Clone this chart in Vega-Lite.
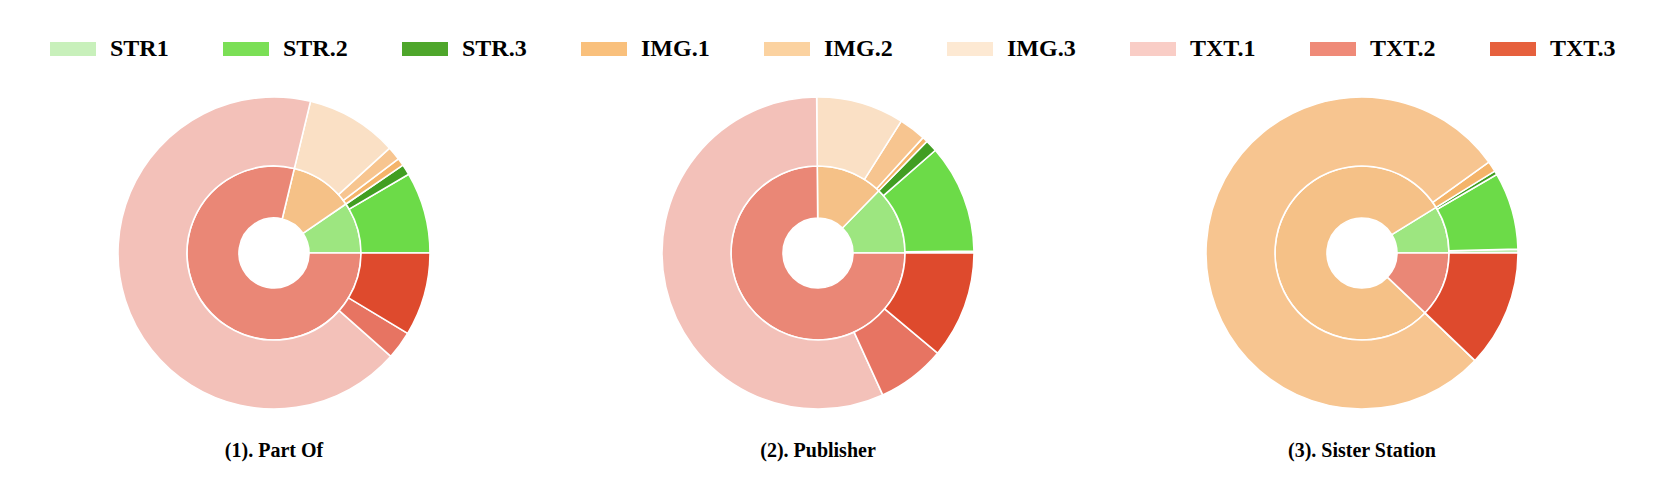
{
  "$schema": "https://vega.github.io/schema/vega-lite/v6.json",
  "padding": {"left": 50, "top": 26, "right": 5, "bottom": 5},
  "data": {"values": [
    {"panel": "(1). Part Of", "grp": "STR", "sub": "STR1", "v": 0, "ord": 9, "gord": 3},
    {"panel": "(1). Part Of", "grp": "STR", "sub": "STR.2", "v": 8.4, "ord": 8, "gord": 3},
    {"panel": "(1). Part Of", "grp": "STR", "sub": "STR.3", "v": 1.1, "ord": 7, "gord": 3},
    {"panel": "(1). Part Of", "grp": "IMG", "sub": "IMG.1", "v": 0.8, "ord": 6, "gord": 2},
    {"panel": "(1). Part Of", "grp": "IMG", "sub": "IMG.2", "v": 1.4, "ord": 5, "gord": 2},
    {"panel": "(1). Part Of", "grp": "IMG", "sub": "IMG.3", "v": 9.5, "ord": 4, "gord": 2},
    {"panel": "(1). Part Of", "grp": "TXT", "sub": "TXT.1", "v": 67.1, "ord": 3, "gord": 1},
    {"panel": "(1). Part Of", "grp": "TXT", "sub": "TXT.2", "v": 2.9, "ord": 2, "gord": 1},
    {"panel": "(1). Part Of", "grp": "TXT", "sub": "TXT.3", "v": 8.6, "ord": 1, "gord": 1},
    {"panel": "(2). Publisher", "grp": "STR", "sub": "STR1", "v": 0.2, "ord": 9, "gord": 3},
    {"panel": "(2). Publisher", "grp": "STR", "sub": "STR.2", "v": 11.25, "ord": 8, "gord": 3},
    {"panel": "(2). Publisher", "grp": "STR", "sub": "STR.3", "v": 1.25, "ord": 7, "gord": 3},
    {"panel": "(2). Publisher", "grp": "IMG", "sub": "IMG.1", "v": 0.55, "ord": 6, "gord": 2},
    {"panel": "(2). Publisher", "grp": "IMG", "sub": "IMG.2", "v": 2.8, "ord": 5, "gord": 2},
    {"panel": "(2). Publisher", "grp": "IMG", "sub": "IMG.3", "v": 9.1, "ord": 4, "gord": 2},
    {"panel": "(2). Publisher", "grp": "TXT", "sub": "TXT.1", "v": 56.7, "ord": 3, "gord": 1},
    {"panel": "(2). Publisher", "grp": "TXT", "sub": "TXT.2", "v": 7.1, "ord": 2, "gord": 1},
    {"panel": "(2). Publisher", "grp": "TXT", "sub": "TXT.3", "v": 11.1, "ord": 1, "gord": 1},
    {"panel": "(3). Sister Station", "grp": "STR", "sub": "STR1", "v": 0.4, "ord": 9, "gord": 3},
    {"panel": "(3). Sister Station", "grp": "STR", "sub": "STR.2", "v": 8.0, "ord": 8, "gord": 3},
    {"panel": "(3). Sister Station", "grp": "STR", "sub": "STR.3", "v": 0.4, "ord": 7, "gord": 3},
    {"panel": "(3). Sister Station", "grp": "IMG", "sub": "IMG.1", "v": 1.1, "ord": 6, "gord": 2},
    {"panel": "(3). Sister Station", "grp": "IMG", "sub": "IMG.2", "v": 78.0, "ord": 5, "gord": 2},
    {"panel": "(3). Sister Station", "grp": "IMG", "sub": "IMG.3", "v": 0, "ord": 4, "gord": 2},
    {"panel": "(3). Sister Station", "grp": "TXT", "sub": "TXT.1", "v": 0, "ord": 3, "gord": 1},
    {"panel": "(3). Sister Station", "grp": "TXT", "sub": "TXT.2", "v": 0, "ord": 2, "gord": 1},
    {"panel": "(3). Sister Station", "grp": "TXT", "sub": "TXT.3", "v": 12.1, "ord": 1, "gord": 1}
  ]},
  "facet": {
    "column": {
      "field": "panel", "type": "nominal",
      "header": {
        "title": null, "labelOrient": "bottom", "labelPadding": 18,
        "labelFont": "Liberation Serif", "labelFontWeight": "bold", "labelFontSize": 20, "labelColor": "#000000"
      }
    }
  },
  "spacing": 96,
  "spec": {
    "width": 448,
    "height": 340,
    "layer": [
      {
        "transform": [
          {"aggregate": [{"op": "sum", "field": "v", "as": "gv"}], "groupby": ["panel", "grp", "gord"]}
        ],
        "mark": {"type": "arc", "radius": 87, "radius2": 35, "stroke": "#ffffff", "strokeWidth": 1.6},
        "encoding": {
          "theta": {"field": "gv", "type": "quantitative", "stack": "normalize", "scale": {"range": [1.5708, 7.854]}},
          "order": {"field": "gord", "type": "quantitative"},
          "fill": {
            "field": "grp", "type": "nominal", "legend": null,
            "scale": {
              "domain": ["STR", "IMG", "TXT", "STR1", "STR.2", "STR.3", "IMG.1", "IMG.2", "IMG.3", "TXT.1", "TXT.2", "TXT.3"],
              "range": ["#9de680", "#f5c187", "#ea8776", "#bfecb0", "#6cdb48", "#419e22", "#f4b46a", "#f7c590", "#fae0c5", "#f3c1b9", "#e77462", "#de4a2d"]
            }
          }
        }
      },
      {
        "mark": {"type": "arc", "radius": 156, "radius2": 87, "stroke": "#ffffff", "strokeWidth": 1.6},
        "encoding": {
          "theta": {"field": "v", "type": "quantitative", "stack": "normalize", "scale": {"range": [1.5708, 7.854]}},
          "order": {"field": "ord", "type": "quantitative"},
          "fill": {
            "field": "sub", "type": "nominal", "legend": null,
            "scale": {
              "domain": ["STR", "IMG", "TXT", "STR1", "STR.2", "STR.3", "IMG.1", "IMG.2", "IMG.3", "TXT.1", "TXT.2", "TXT.3"],
              "range": ["#9de680", "#f5c187", "#ea8776", "#bfecb0", "#6cdb48", "#419e22", "#f4b46a", "#f7c590", "#fae0c5", "#f3c1b9", "#e77462", "#de4a2d"]
            }
          }
        }
      },
      {
        "mark": {"type": "point", "filled": true, "opacity": 0},
        "encoding": {
          "color": {
            "field": "sub", "type": "nominal",
            "scale": {
              "domain": ["STR1", "STR.2", "STR.3", "IMG.1", "IMG.2", "IMG.3", "TXT.1", "TXT.2", "TXT.3"],
              "range": ["#c8f0bb", "#7bdf56", "#4ea62b", "#f9c07c", "#fbd2a0", "#fde9d3", "#f9cdc6", "#ef8a78", "#e6603d"]
            },
            "legend": {
              "title": null, "orient": "top", "direction": "horizontal", "columns": 9,
              "symbolType": "M-1,-0.3043H1V0.3043H-1Z", "symbolSize": 2116, "symbolOpacity": 1,
              "symbolStrokeWidth": 0,
              "labelFont": "Liberation Serif", "labelFontWeight": "bold", "labelFontSize": 24, "labelColor": "#000000",
              "labelOffset": 14, "columnPadding": 54, "offset": 22, "labelLimit": 200
            }
          }
        }
      }
    ]
  },
  "config": {"view": {"stroke": null}}
}
